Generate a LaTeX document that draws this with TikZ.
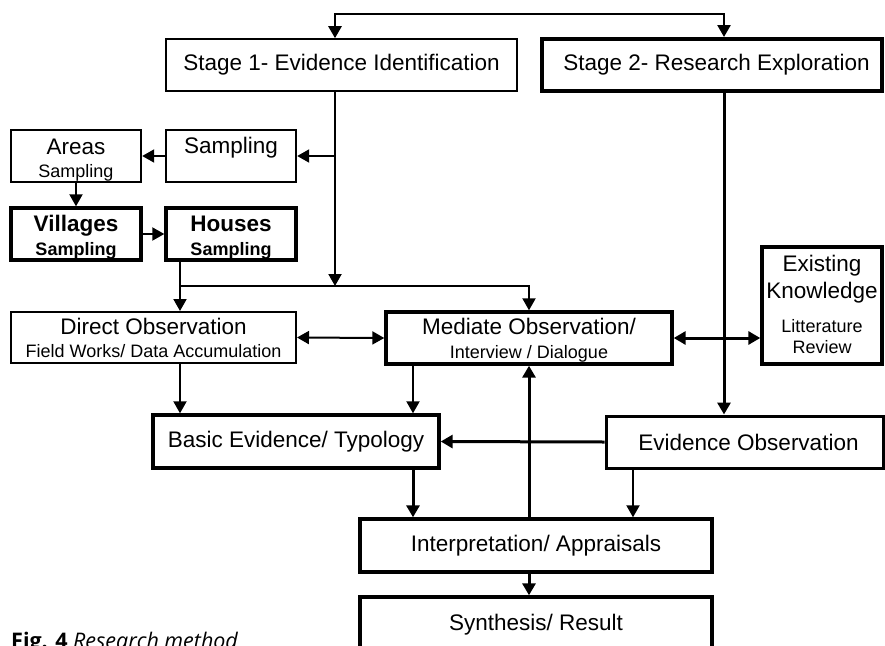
\documentclass[tikz,border=0pt]{standalone}
\usepackage{fontspec}
\setmainfont{Liberation Sans}
\newfontfamily\capfont{Open Sans}
\usetikzlibrary{arrows.meta}
\newcommand{\bigf}{\fontsize{22.5}{27}\selectfont}
\newcommand{\smf}{\fontsize{18}{21}\selectfont}
% lines: raise amount, tabular rows
\newcommand{\mlines}[2]{\raisebox{#1}[0pt][0pt]{\begin{tabular}[t]{@{}c@{}}#2\end{tabular}}}
\newcommand{\oline}[2]{\raisebox{#1}[0pt][0pt]{#2}}
\begin{document}
\begin{tikzpicture}[x=1pt,y=-1pt,
  box/.style={draw=black, inner sep=0pt, align=center, font=\bigf, text=black},
  thinb/.style={box, line width=1.6pt},
  medb/.style={box, line width=2.4pt},
  thickb/.style={box, line width=3.4pt},
  arr/.style={line width=2pt, -{Triangle[length=12pt,width=13pt]}},
  arrt/.style={line width=3pt, -{Triangle[length=12pt,width=13pt]}},
  arrboth/.style={line width=2pt, {Triangle[length=12pt,width=13pt]}-{Triangle[length=12pt,width=13pt]}},
  arrbotht/.style={line width=3pt, {Triangle[length=12pt,width=13pt]}-{Triangle[length=12pt,width=13pt]}},
  conn/.style={line width=2pt}
]
\path[use as bounding box] (0,0) rectangle (885,645);
\clip (0,0) rectangle (885,645);
\fill[white] (0,0) rectangle (885,645);

% boxes
\node[thinb, minimum width=351pt, minimum height=52pt] (s1) at (341.5,65) {Stage 1- Evidence Identification};
\node[thickb, line width=4pt, minimum width=340pt, minimum height=52pt] (s2) at (712,65) {\hspace*{9pt}Stage 2- Research Exploration};
\node[medb, minimum width=130pt, minimum height=52pt] (samp) at (231,156) {\oline{2.5pt}{Sampling}};
\node[medb, minimum width=130pt, minimum height=52pt] (areas) at (76,156) {\mlines{2pt}{Areas\\[-4pt]{\smf Sampling}}};
\node[thickb, minimum width=130pt, minimum height=52pt, font=\bigf\bfseries] (vill) at (76,234) {\mlines{2.5pt}{Villages\\[-3pt]{\smf\bfseries Sampling}}};
\node[thickb, minimum width=130pt, minimum height=52pt, font=\bigf\bfseries] (hous) at (231,234) {\mlines{2.5pt}{Houses\\[-3pt]{\smf\bfseries Sampling}}};
\node[thinb, line width=2pt, minimum width=285pt, minimum height=51pt] (direct) at (153.5,337.5) {\mlines{3pt}{Direct Observation\\[-4pt]{\smf Field Works/ Data Accumulation}}};
\node[thickb, minimum width=286pt, minimum height=52pt] (med) at (529,338) {\mlines{3.5pt}{Mediate Observation/\\[-3pt]{\smf Interview / Dialogue}}};
\node[thickb, minimum width=120pt, minimum height=117pt] (exist) at (822,305.5) {\mlines{34pt}{Existing\\Knowledge\\[7pt]{\smf Litterature}\\[-6pt]{\smf Review}}};
\node[thickb, minimum width=286pt, minimum height=53pt] (basic) at (296,441.5) {Basic Evidence/ Typology};
\node[medb, line width=3pt, minimum width=277pt, minimum height=52pt] (evid) at (744.5,442) {\hspace*{8pt}Evidence Observation};
\node[thickb, minimum width=352pt, minimum height=53pt] (interp) at (536,545.5) {Interpretation/ Appraisals};
\node[thickb, minimum width=352pt, minimum height=63pt] (synth) at (536,628.5) {\oline{-1.5pt}{Synthesis/ Result}};

% caption
\node[anchor=base west, inner sep=0pt, font=\capfont\fontsize{21.5}{25}\selectfont] (cap) at (11,648.5) {\textbf{Fig. 4} \textit{Research method}};

% helper coordinates
\coordinate (tl) at (335,14);
\coordinate (tr) at (724,14);
\coordinate (j1) at (335,286);
\coordinate (cH) at (180,286);
\coordinate (cM) at (529,286);
\coordinate (cB) at (413,0);
\coordinate (cE) at (633,0);

% connectors
\draw[arrbotht, line width=2.6pt] (s1.north -| tl) -- (tl) -- (tr) -- (s2.north -| tr);
\draw[arr] (s1.south -| j1) -- (j1);
\draw[arr] (j1 |- samp.east) -- (samp.east);
\draw[arr] (samp.west) -- (areas.east);
\draw[arr] (areas.south) -- (vill.north);
\draw[arr] (vill.east) -- (hous.west);
\draw[arr] (hous.south -| cH) -- (direct.north -| cH);
\draw[arr] (cH) -- (cM) -- (med.north);
\draw[arrboth] (direct.east) -- (med.west);
\draw[arr] (direct.south -| cH) -- (basic.north -| cH);
\draw[arr] (med.south -| cB) -- (basic.north -| cB);
\draw[arrt] (basic.south -| cB) -- (interp.north -| cB);
\draw[arrt] (interp.north -| cM) -- (med.south);
\draw[arrt] (evid.west) -- (basic.east);
\draw[arrt] (s2.south -| tr) -- (evid.north -| tr);
\draw[arrbotht] (med.east) -- (med.east -| exist.west);
\draw[arr] (evid.south -| cE) -- (interp.north -| cE);
\draw[arrt] (interp.south -| cM) -- (synth.north -| cM);
\end{tikzpicture}
\end{document}
